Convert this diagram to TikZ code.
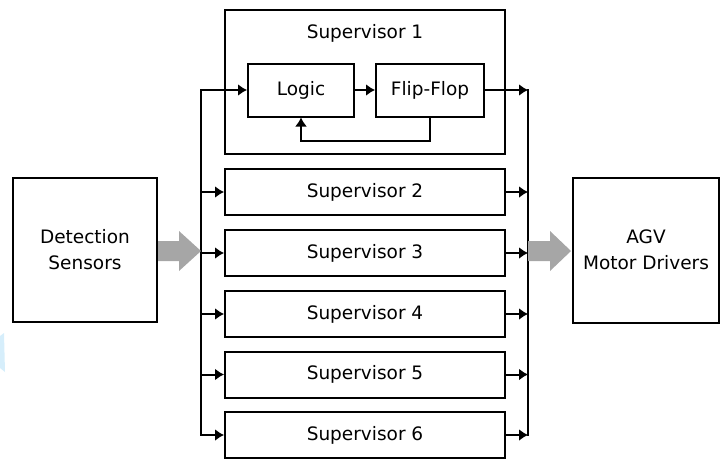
\documentclass[tikz,border=0pt]{standalone}
\usepackage{fontspec}
\setmainfont{DejaVu Sans}
\usetikzlibrary{arrows.meta}
\definecolor{flowgray}{RGB}{166,166,166}
\definecolor{edgeblue}{RGB}{214,238,251}
\begin{document}
\begin{tikzpicture}[x=1pt,y=-1pt,
  box/.style={draw,line width=2pt,inner sep=0pt,align=center,
    font=\fontsize{18.5}{26}\selectfont},
  sup/.style={box,minimum width=280pt,minimum height=46pt},
  link/.style={line width=2pt,-{Latex[length=9pt,width=12pt]}},
  wire/.style={line width=2pt,line cap=rect},
  bigarrow/.style={fill=flowgray,draw=none}]
\useasboundingbox (0,0) rectangle (722,459);

% faint sliver at the left border
\fill[edgeblue] (0,336) -- (4,333) -- (5,372) -- (0,368) -- cycle;

% end blocks
\node[box,minimum width=144pt,minimum height=144pt] (det) at (85,250) {Detection\\Sensors};
\node[box,minimum width=146pt,minimum height=145pt] (agv) at (646,250) {AGV\\Motor Drivers};

% supervisor 1 with its internal logic
\node[box,minimum width=280pt,minimum height=144pt] (s1) at (365,82) {};
\node[font=\fontsize{18.5}{26}\selectfont] (s1t) at (365,33) {Supervisor 1};
\node[box,minimum width=106pt,minimum height=53pt] (logic) at (301,90) {Logic};
\node[box,minimum width=108pt,minimum height=53pt] (ff) at (430,90) {Flip-Flop};

% remaining supervisors
\node[sup] (s2) at (365,192) {Supervisor 2};
\node[sup] (s3) at (365,253) {Supervisor 3};
\node[sup] (s4) at (365,314) {Supervisor 4};
\node[sup] (s5) at (365,374.5) {Supervisor 5};
\node[sup] (s6) at (365,435) {Supervisor 6};

% distribution and collection buses
\coordinate (lt) at (201,90);
\coordinate (rt) at (528,90);
\coordinate (lb) at (lt |- s6.west);
\coordinate (rb) at (rt |- s6.east);
\draw[wire] (lt) -- (lb);
\draw[wire] (rt) -- (rb);

% supervisor 1 signal path
\draw[link] (lt) -- (logic.west);
\draw[link] (logic) -- (ff);
\draw[link] (ff.south) -- ++(0,23) -| (logic.south);
\draw[link] (ff.east) -- (rt);

% bus taps for supervisors 2-6
\foreach \s in {s2,s3,s4,s5,s6}{
  \draw[link] (lt |- \s.west) -- (\s.west);
  \draw[link] (\s.east) -- (rt |- \s.east);
}

% broad flow arrows
\fill[bigarrow,shift={(det.east)}] (0,-9) -- (21,-9) -- (21,-19) -- (43,1)
  -- (21,21) -- (21,11) -- (0,11) -- cycle;
\fill[bigarrow,shift={(rt |- agv.west)}] (0,-9) -- (22,-9) -- (22,-19) -- (43,1)
  -- (22,21) -- (22,11) -- (0,11) -- cycle;
\end{tikzpicture}
\end{document}
